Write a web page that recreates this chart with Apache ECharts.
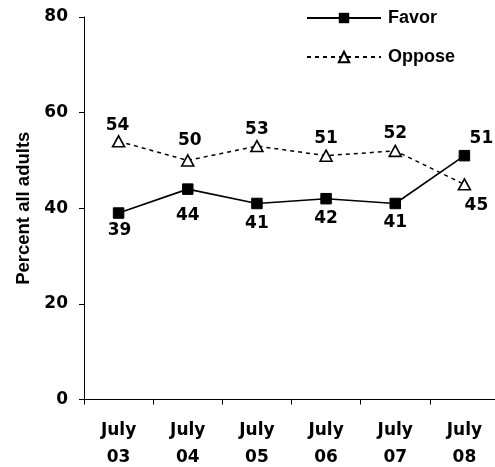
<!DOCTYPE html>
<html><head><meta charset="utf-8">
<script src="https://cdn.jsdelivr.net/npm/echarts@6/dist/echarts.min.js"></script>
<style>html,body{margin:0;padding:0;background:#fff}#c{width:495px;height:467px}</style>
</head><body><div id="c"></div>
<script>
const categories = ['July\n03','July\n04','July\n05','July\n06','July\n07','July\n08'];
const favor = [39,44,41,42,41,51];
const oppose = [54,50,53,51,52,45];
const yTicks = [0,20,40,60,80];
// label placement (styling only): offset of label centre from its point, px
const favorLabelOffset = [[1,18],[0,26],[0,20],[0,20],[0,19],[17,-17]];
const opposeLabelOffset = [[-1,-16],[2,-20],[0,-17],[0,-17],[0,-17],[12,21]];
const W = '"Liberation Sans", Arial, sans-serif';
const D = '"DejaVu Sans", sans-serif';
const chart = echarts.init(document.getElementById('c'));
const lbl = {show:true,position:'inside',color:'#000',fontWeight:'bold',fontSize:17,fontFamily:D,align:'center',verticalAlign:'middle'};
chart.setOption({
  animation:false,
  grid:{left:84,right:-4,top:17,bottom:67.5,containLabel:false,outerBoundsMode:'none'},
  legend:{
    orient:'vertical', left:306, top:9, padding:0, itemWidth:74, itemHeight:13, itemGap:21,
    textStyle:{fontFamily:W,fontWeight:'bold',fontSize:18,color:'#000',padding:[0,0,0,2]},
    data:['Favor','Oppose']
  },
  xAxis:{type:'category',data:categories,boundaryGap:true,
    axisLine:{lineStyle:{color:'#000',width:1}},
    axisTick:{show:true,length:5,inside:false,lineStyle:{color:'#000'}},
    axisLabel:{color:'#000',fontWeight:'bold',fontSize:17,lineHeight:27,margin:18,fontFamily:D}
  },
  yAxis:{type:'value',min:0,max:80,interval:20,
    name:'Percent all adults',nameLocation:'middle',nameGap:47,
    nameTextStyle:{color:'#000',fontWeight:'bold',fontSize:18.5,fontFamily:W},
    axisLine:{show:true,lineStyle:{color:'#000',width:1}},
    axisTick:{show:true,length:5,lineStyle:{color:'#000'}},
    splitLine:{show:false},
    axisLabel:{color:'#000',fontWeight:'bold',fontSize:17,margin:16,fontFamily:D,
      formatter:v=>yTicks.includes(v)?String(v):''}
  },
  series:[
    {name:'Favor',type:'line',
     data:favor.map((v,i)=>({value:v,label:{offset:favorLabelOffset[i]}})),
     symbol:'rect',symbolSize:10.5,
     lineStyle:{color:'#000',width:1.6},
     itemStyle:{color:'#000',borderColor:'#000'},
     label:lbl, z:3
    },
    {name:'Oppose',type:'line',
     data:oppose.map((v,i)=>({value:v,label:{offset:opposeLabelOffset[i]}})),
     symbol:'triangle',symbolSize:[12,11],
     lineStyle:{color:'#000',width:1.5,type:[4,4]},
     itemStyle:{color:'#fff',borderColor:'#000',borderWidth:1.6},
     label:lbl, z:2
    }
  ]
});
</script></body></html>
